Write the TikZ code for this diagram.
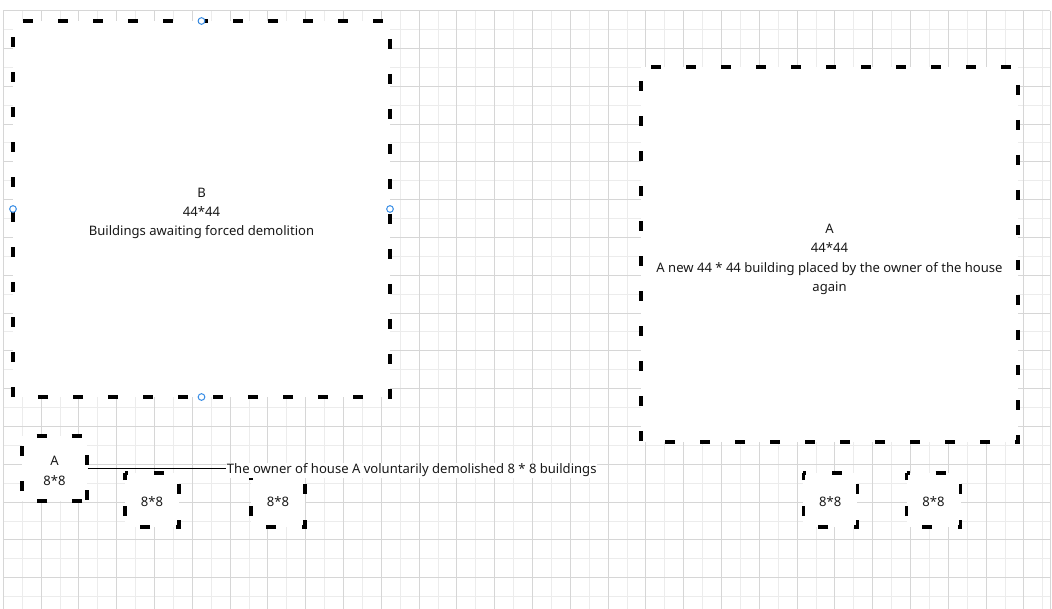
\documentclass[tikz,border=0pt]{standalone}
\usepackage{fontspec}
\setmainfont{Noto Sans}
\definecolor{gridDark}{RGB}{214,214,214}
\definecolor{gridLight}{RGB}{236,236,236}
\definecolor{handleBlue}{RGB}{58,142,230}
\definecolor{txt}{RGB}{25,25,25}
\tikzset{
  bld/.style={draw=none, fill=white, inner sep=0pt, outer sep=0pt},
  captext/.style={inner sep=0pt, align=center, text=txt, font=\fontsize{9.8pt}{14.5pt}\selectfont},
  bigdash/.style={line width=2.6pt, line cap=butt, dash pattern=on 7.5pt off 18.75pt, dash phase=18.75pt},
  smalldash/.style={line width=2.6pt, line cap=butt, dash pattern=on 7.5pt off 19.5pt, dash phase=5.25pt},
  edgedash/.style={line width=2.6pt, line cap=butt, dash pattern=on 7.5pt off 18.75pt},
  handle/.style={circle, draw=handleBlue, fill=white, line width=0.75pt,
    minimum size=5pt, inner sep=0pt},
  lbl/.style={fill=white, inner sep=0.5pt, text=txt, font=\fontsize{9.8pt}{14.5pt}\selectfont},
  conn/.style={line width=0.75pt, draw=black}
}
\begin{document}
\begin{tikzpicture}[x=0.75pt,y=-0.75pt]
\useasboundingbox (0,0) rectangle (1052,609);
\fill[white] (0,0) rectangle (1052,609);
% grid
\foreach \k in {1,3,...,55} \draw[gridLight, line width=0.75pt] ({3.3+18.9*\k},10.7) -- ({3.3+18.9*\k},609);
\foreach \k in {1,3,...,31} \draw[gridLight, line width=0.75pt] (3.3,{10.7+18.9*\k}) -- (1050,{10.7+18.9*\k});
\foreach \k in {0,2,...,54} \draw[gridDark, line width=0.75pt] ({3.3+18.9*\k},10.7) -- ({3.3+18.9*\k},609);
\foreach \k in {0,2,...,30} \draw[gridDark, line width=0.75pt] (3.3,{10.7+18.9*\k}) -- (1050,{10.7+18.9*\k});
\draw[gridDark, line width=0.75pt] (1050,10.7) -- (1050,609);
% buildings
\node[bld, minimum width=282.75pt, minimum height=282pt] (B) at (201.5,209) {};
\node[bld, minimum width=282.75pt, minimum height=281.25pt] (A) at (829.5,254.5) {};
\node[bld, minimum width=48.75pt, minimum height=48.75pt] (a) at (54.5,468.5) {};
\node[bld, minimum width=40.5pt, minimum height=40.5pt] (s1) at (152,500) {};
\node[bld, minimum width=40.5pt, minimum height=40.5pt] (s2) at (278,500) {};
\node[bld, minimum width=40.5pt, minimum height=40.5pt] (s3) at (830.3,500) {};
\node[bld, minimum width=40.5pt, minimum height=40.5pt] (s4) at (933.5,500) {};
% outlines
\foreach \n in {B, A}
  \draw[bigdash] (\n.north west) -- (\n.north east) -- (\n.south east) -- (\n.south west) -- cycle;
\foreach \n in {s1, s2, s3, s4}
  \draw[smalldash] (\n.north west) -- (\n.north east) -- (\n.south east) -- (\n.south west) -- cycle;
\draw[edgedash, dash phase=15.2pt] (a.north west) -- (a.north east);
\draw[edgedash, dash phase=12pt] (a.north east) -- (a.south east);
\draw[edgedash, dash phase=22.7pt] (a.south east) -- (a.south west);
\draw[edgedash, dash phase=18.75pt] (a.south west) -- (a.north west);
% texts
\node[captext] (Bt) at ([yshift=-3.4pt]B.center) {B\\44*44\\Buildings awaiting forced demolition};
\node[captext] (At) at ([yshift=-3.6pt]A.center) {A\\44*44\\A new 44 * 44 building placed by the owner of the house\\again};
\node[captext] (at) at ([yshift=-1.8pt]a.center) {A\\8*8};
\foreach \n in {s1, s2, s3, s4}
  \node[captext] (\n t) at ([yshift=-1.5pt]\n.center) {8*8};
% label and connector
\node[lbl, anchor=west] (note) at (226,470.5) {The owner of house A voluntarily demolished 8 * 8 buildings};
\coordinate (c1) at (87.7,468.3);
\coordinate (c2) at (226,468.3);
\draw[conn] (c1) -- (c2);
% selection handles
\node[handle] (h1) at (B.north) {};
\node[handle] (h2) at (B.south) {};
\node[handle] (h3) at (B.west) {};
\node[handle] (h4) at (B.east) {};
\end{tikzpicture}
\end{document}
